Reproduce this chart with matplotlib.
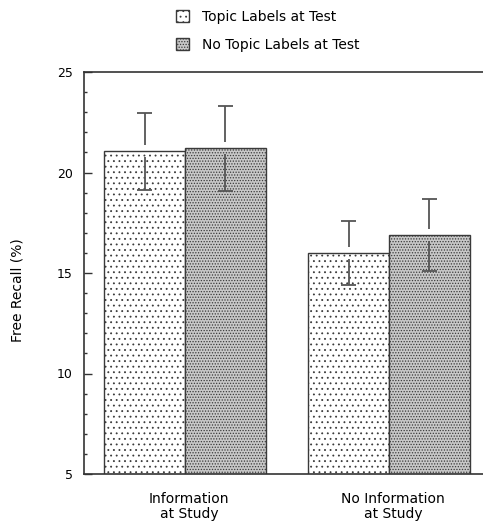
import matplotlib
matplotlib.use('Agg')
import numpy as np
import matplotlib.pyplot as plt
from matplotlib.patches import Patch
from matplotlib.ticker import MultipleLocator

# data
groups = ["Information\nat Study", "No Information\nat Study"]
series = ["Topic Labels at Test", "No Topic Labels at Test"]
topic_means = [21.05, 16.0]
topic_err = [1.9, 1.6]
notopic_means = [21.2, 16.9]
notopic_err = [2.1, 1.8]

plt.rcParams['font.family'] = ['DejaVu Sans']
plt.rcParams['hatch.linewidth'] = 0.6

fig = plt.figure(figsize=(4.83, 5.25), dpi=100)
ax = fig.add_axes([84 / 483, 1 - 474 / 525, 1 - 84 / 483, (474 - 72) / 525])

x = np.arange(len(groups))
width = 0.397
edge = '#3a3a3a'

b1 = ax.bar(x - width / 2, topic_means, width, color='white',
            edgecolor=edge, hatch='...', linewidth=1.0, zorder=2)
b2 = ax.bar(x + width / 2, notopic_means, width, color='#c8c8c8',
            edgecolor=edge, hatch='......', linewidth=1.0, zorder=2)

# error bars with a small gap around the bar top
gap = 0.3
cap = 0.037
err_col = '#555555'
for xs, means, errs in [(x - width / 2, topic_means, topic_err),
                        (x + width / 2, notopic_means, notopic_err)]:
    for xi, m, e in zip(xs, means, errs):
        ax.vlines(xi, m + gap, m + e, color=err_col, lw=1.3, zorder=3)
        ax.vlines(xi, m - e, m - gap, color=err_col, lw=1.3, zorder=3)
        ax.hlines([m + e, m - e], xi - cap, xi + cap, color=err_col, lw=1.3, zorder=3)

ax.set_ylim(5, 25)
ax.set_xlim((84 - 185) / 204, (483 - 185) / 204)
ax.yaxis.set_major_locator(MultipleLocator(5))
ax.yaxis.set_minor_locator(MultipleLocator(1))
ax.tick_params(axis='y', which='major', direction='in', length=6, width=1.0,
               pad=8, labelsize=9, color='#333333')
ax.tick_params(axis='y', which='minor', direction='in', length=2.5, width=1.0,
               color='#333333')
ax.set_xticks(x + 0.02)
ax.set_xticklabels(groups, fontsize=10, linespacing=1.1)
ax.tick_params(axis='x', length=0, pad=13)

for s in ['left', 'bottom', 'top']:
    ax.spines[s].set_color('#333333')
    ax.spines[s].set_linewidth(1.2)
ax.spines['right'].set_visible(False)

fig.text(18 / 483, 1 - 290 / 525, "Free Recall (%)", rotation=90,
         ha='center', va='center', fontsize=10)

handles = [Patch(facecolor='white', edgecolor=edge, hatch='...'),
           Patch(facecolor='#c8c8c8', edgecolor=edge, hatch='......')]
fig.legend(handles, series, loc='upper left', bbox_to_anchor=(163 / 483, 1.005),
           frameon=False, fontsize=10, handlelength=1.0, handleheight=1.0,
           handletextpad=0.9, labelspacing=1.0)

fig.savefig('out.png', dpi=100)
